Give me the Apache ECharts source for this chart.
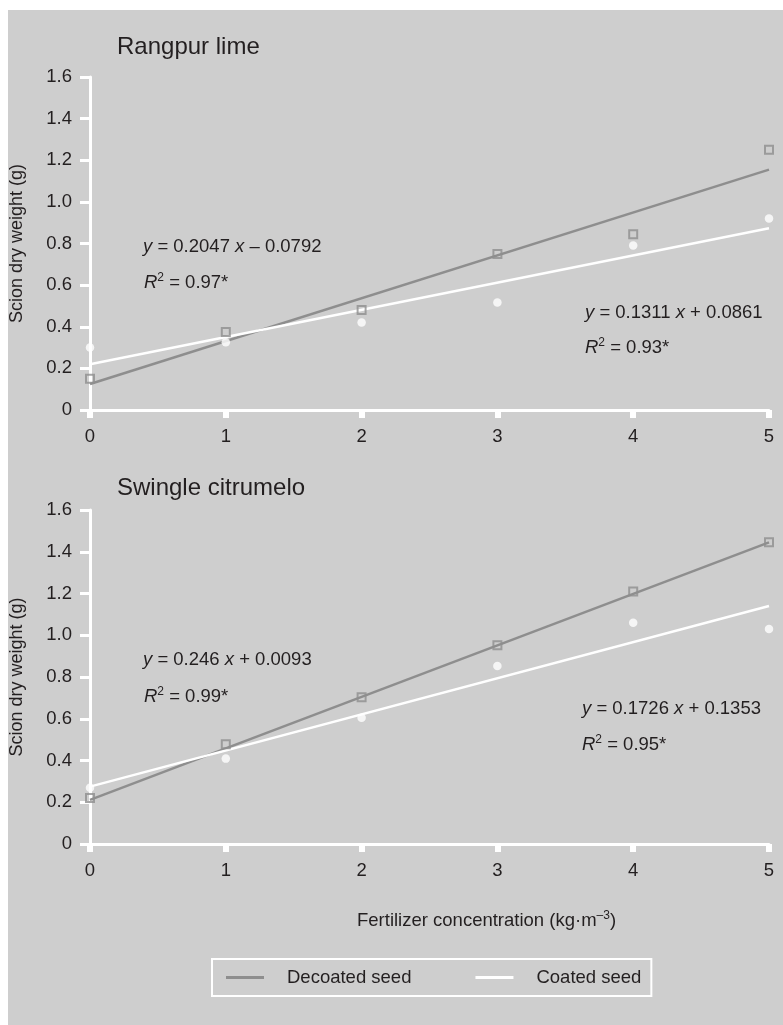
<!DOCTYPE html>
<html>
<head>
<meta charset="utf-8">
<style>
  html, body { margin: 0; padding: 0; background: #ffffff; }
  #chart { width: 783px; height: 1025px; }
</style>
<script src="https://cdn.jsdelivr.net/npm/echarts@6/dist/echarts.min.js"></script>
</head>
<body>
<div id="chart"></div>
<script>
// ---- data ----
const xValues = [0, 1, 2, 3, 4, 5];
const xTickLabels = ['0', '1', '2', '3', '4', '5'];
const yTickLabels = ['0', '0.2', '0.4', '0.6', '0.8', '1.0', '1.2', '1.4', '1.6'];

const rangpurDecoated = [0.15, 0.375, 0.48, 0.75, 0.845, 1.25];
const rangpurCoated   = [0.30, 0.325, 0.42, 0.516, 0.79, 0.92];
const swingleDecoated = [0.22, 0.478, 0.703, 0.952, 1.209, 1.445];
const swingleCoated   = [0.27, 0.409, 0.605, 0.853, 1.06, 1.03];

// fitted lines, end values at x = 0 and x = 5
const fitX = [0, 5];
const rangpurDecoatedFit = [0.125, 1.155];
const rangpurCoatedFit   = [0.22, 0.873];
const swingleDecoatedFit = [0.211, 1.445];
const swingleCoatedFit   = [0.275, 1.14];

const panelTitles = ['Rangpur lime', 'Swingle citrumelo'];
const equations = [
  ['{i|y} = 0.2047 {i|x} – 0.0792', '{i|R}{s|2} = 0.97*', '{i|y} = 0.1311 {i|x} + 0.0861', '{i|R}{s|2} = 0.93*'],
  ['{i|y} = 0.246 {i|x} + 0.0093', '{i|R}{s|2} = 0.99*', '{i|y} = 0.1726 {i|x} + 0.1353', '{i|R}{s|2} = 0.95*']
];
const seriesNames = ['Decoated seed', 'Coated seed'];

// ---- styling ----
const FONT = "'Liberation Sans', Arial, Helvetica, sans-serif";
const TXT = '#231f20';
const BG = '#cecece';
const GREY = '#8e8e8e';
const WHITE = '#ffffff';
const FS = 18.5;

function pairs(xs, ys) { return xs.map((x, i) => [x, ys[i]]); }

function makeX(gi) {
  return {
    type: 'value', gridIndex: gi, min: 0, max: 5, interval: 1,
    axisLine: { show: true, onZero: false, lineStyle: { color: WHITE, width: 3 } },
    axisTick: { show: true, length: 8, lineStyle: { color: WHITE, width: 6 } },
    axisLabel: { color: TXT, fontSize: FS, fontFamily: FONT, margin: 17,
      formatter: v => xTickLabels[xValues.indexOf(v)] },
    splitLine: { show: false }
  };
}
function makeY(gi) {
  return {
    type: 'value', gridIndex: gi, min: 0, max: 1.6, interval: 0.2,
    name: 'Scion dry weight (g)', nameLocation: 'middle', nameGap: 64,
    nameTextStyle: { color: TXT, fontSize: 18, fontFamily: FONT },
    axisLine: { show: true, lineStyle: { color: WHITE, width: 3 } },
    axisTick: { show: true, length: 10, lineStyle: { color: WHITE, width: 3 } },
    axisLabel: { color: TXT, fontSize: FS, fontFamily: FONT, margin: 18,
      formatter: v => yTickLabels[Math.round(v / 0.2)] },
    splitLine: { show: false }
  };
}

const panels = [
  { dec: rangpurDecoated, coa: rangpurCoated, decFit: rangpurDecoatedFit, coaFit: rangpurCoatedFit },
  { dec: swingleDecoated, coa: swingleCoated, decFit: swingleDecoatedFit, coaFit: swingleCoatedFit }
];

const series = [];
panels.forEach((p, gi) => {
  series.push({
    name: seriesNames[0], type: 'line', xAxisIndex: gi, yAxisIndex: gi,
    data: pairs(fitX, p.decFit), symbol: 'none', silent: true, z: 2,
    lineStyle: { color: GREY, width: 2.5 }, itemStyle: { color: GREY }
  });
  series.push({
    name: seriesNames[1], type: 'line', xAxisIndex: gi, yAxisIndex: gi,
    data: pairs(fitX, p.coaFit), symbol: 'none', silent: true, z: 2,
    lineStyle: { color: WHITE, width: 2.5 }, itemStyle: { color: WHITE }
  });
  series.push({
    name: seriesNames[0] + ' points', type: 'scatter', xAxisIndex: gi, yAxisIndex: gi,
    data: pairs(xValues, p.dec), symbol: 'rect', symbolSize: 8, z: 4,
    itemStyle: { color: 'rgba(0,0,0,0)', borderColor: GREY, borderWidth: 2 }
  });
  series.push({
    name: seriesNames[1] + ' points', type: 'scatter', xAxisIndex: gi, yAxisIndex: gi,
    data: pairs(xValues, p.coa), symbol: 'circle', symbolSize: 8.5, z: 4,
    itemStyle: { color: WHITE }
  });
});

const rich = {
  i: { fontStyle: 'italic', fontSize: FS, fontFamily: FONT, fill: TXT, color: TXT, lineHeight: 22 },
  s: { fontStyle: 'normal', fontSize: 12, fontFamily: FONT, fill: TXT, color: TXT, lineHeight: 22, verticalAlign: 'top' }
};
function txt(x, y, text, size) {
  return {
    type: 'text', x: x, y: y, z: 10, silent: true,
    style: { text: text, fill: TXT, fontSize: size || FS, fontFamily: FONT,
      align: 'left', verticalAlign: 'middle', lineHeight: 22, rich: rich }
  };
}

// text positions (left, middle) per panel
const eqPos = [
  [[143, 247], [144, 283], [585, 313], [585, 348]],
  [[143, 660], [144, 697], [582, 709], [582, 745]]
];
const titlePos = [[117, 47], [117, 488]];

const graphics = [
  { type: 'rect', z: -10, silent: true, shape: { x: 8, y: 10, width: 775, height: 1015 }, style: { fill: BG } }
];
panelTitles.forEach((t, i) => graphics.push(txt(titlePos[i][0], titlePos[i][1], t, 24)));
equations.forEach((eqs, gi) => eqs.forEach((e, k) => graphics.push(txt(eqPos[gi][k][0], eqPos[gi][k][1], e, FS))));
graphics.push(txt(357, 921, 'Fertilizer concentration (kg·m{s|–3})', FS));

const chart = echarts.init(document.getElementById('chart'), null, { renderer: 'canvas' });
chart.setOption({
  backgroundColor: WHITE,
  animation: false,
  textStyle: { fontFamily: FONT },
  grid: [
    { left: 90, right: 14, top: 77, height: 333 },
    { left: 90, right: 14, top: 510, height: 334 }
  ],
  xAxis: [makeX(0), makeX(1)],
  yAxis: [makeY(0), makeY(1)],
  legend: {
    left: 212, top: 959,
    data: [
      { name: seriesNames[0], icon: 'rect', itemStyle: { color: GREY } },
      { name: seriesNames[1], icon: 'rect', itemStyle: { color: WHITE } }
    ],
    itemWidth: 38, itemHeight: 3, itemGap: 64,
    padding: [9, 10, 9, 14],
    borderColor: WHITE, borderWidth: 2, backgroundColor: 'rgba(0,0,0,0)',
    selectedMode: false,
    textStyle: { color: TXT, fontSize: FS, fontFamily: FONT, padding: [0, 0, 0, 18] }
  },
  graphic: graphics,
  series: series
});
</script>
</body>
</html>
